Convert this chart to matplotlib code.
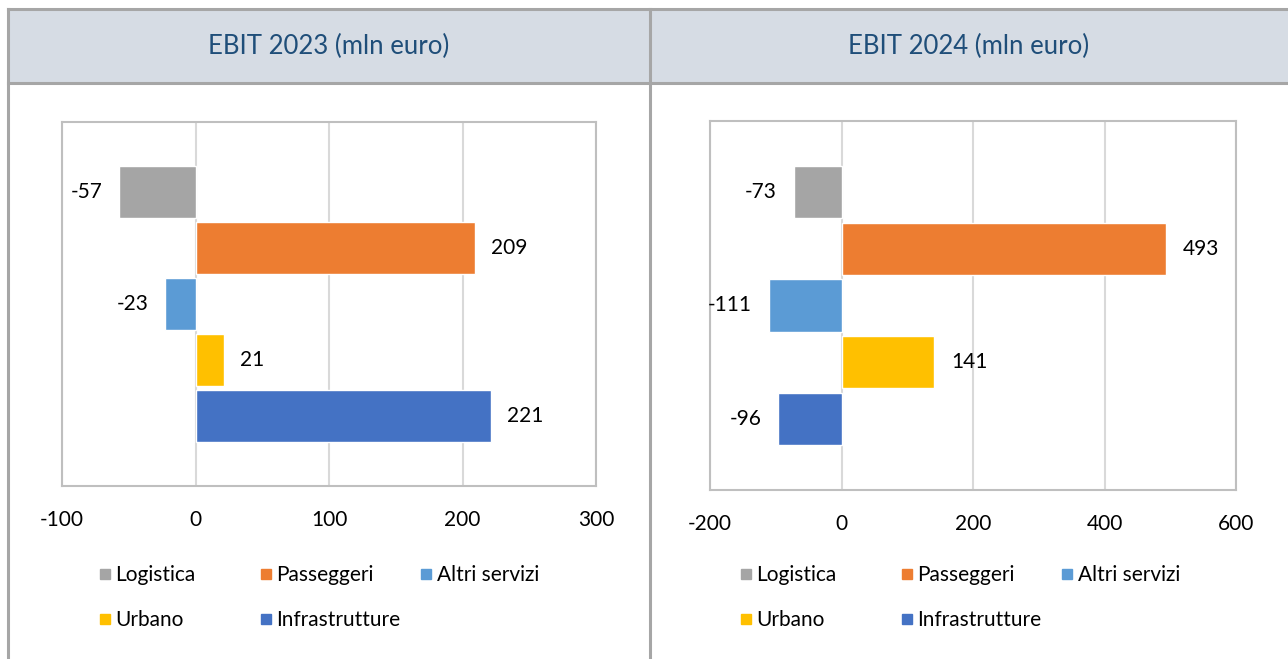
import matplotlib
matplotlib.use("Agg")
import matplotlib.pyplot as plt
from matplotlib.lines import Line2D
from matplotlib.patches import Rectangle

plt.rcParams["font.family"] = ["Lato", "DejaVu Sans"]
plt.rcParams["axes.unicode_minus"] = False

# data
segments = ["Logistica", "Passeggeri", "Altri servizi", "Urbano", "Infrastrutture"]
colors = ["#A5A5A5", "#ED7D31", "#5B9BD5", "#FFC000", "#4472C4"]
ebit_2023 = [-57, 209, -23, 21, 221]
ebit_2024 = [-73, 493, -111, 141, -96]
titles = ["EBIT 2023 (mln euro)", "EBIT 2024 (mln euro)"]
ticks_2023 = [-100, 0, 100, 200, 300]
ticks_2024 = [-200, 0, 200, 400, 600]

W, H = 1288, 659
fig = plt.figure(figsize=(W / 100, H / 100), dpi=100)

# table frame drawn in pixel coordinates on a background axes
bg = fig.add_axes([0, 0, 1, 1], zorder=-1)
bg.set_xlim(0, W); bg.set_ylim(H, 0); bg.axis("off")
border = "#A6A6A6"
bg.add_patch(Rectangle((8, 9), W - 8, 74, facecolor="#D6DCE4", edgecolor="none"))
bg.plot([8, W], [9, 9], color=border, lw=2.2)
bg.plot([8, W], [83, 83], color=border, lw=2.2)
bg.plot([8, 8], [9, H], color=border, lw=2.2)
bg.plot([650, 650], [9, H], color=border, lw=2.2)
bg.text(329, 46, titles[0], ha="center", va="center", fontsize=18.5, color="#1F4E79")
bg.text(969, 46, titles[1], ha="center", va="center", fontsize=18.5, color="#1F4E79")


def panel(box, values, ticks, leg_x):
    l, t, r, b = box
    ax = fig.add_axes([l / W, 1 - b / H, (r - l) / W, (b - t) / H])
    y = list(range(len(values)))
    ax.barh(y, values, height=0.92, color=colors, edgecolor="white", linewidth=1, zorder=3)
    for yi, v in zip(y, values):
        ax.annotate(str(v), (v, yi), xytext=(12 if v >= 0 else -12, 0),
                    textcoords="offset points", ha="left" if v >= 0 else "right",
                    va="center", fontsize=15, color="black")
    ax.set_xlim(ticks[0], ticks[-1])
    ax.set_ylim(5.25, -1.25)
    ax.set_xticks(ticks)
    ax.set_xticklabels([str(tk) for tk in ticks])
    ax.set_yticks([])
    ax.tick_params(axis="x", length=0, pad=17, labelsize=15, colors="black")
    ax.grid(axis="x", color="#D9D9D9", lw=1.5, zorder=0)
    for s in ax.spines.values():
        s.set_color("#BFBFBF"); s.set_linewidth(1.5)
    ax.set_axisbelow(True)

    # legend: Excel-style fixed slots, two rows
    slots = [(0, 575), (1, 575), (2, 575), (0, 620), (1, 620)]
    for name, col, (c, yy) in zip(segments, colors, slots):
        h = Line2D([], [], marker="s", ms=6.5, color=col, ls="none")
        x0 = leg_x + c * 160.5 - 5
        fig.legend(handles=[h], labels=[name], loc="center left",
                   bbox_to_anchor=(x0 / W, 1 - yy / H), frameon=False,
                   fontsize=15, handlelength=0.5, handletextpad=0.25,
                   borderpad=0, borderaxespad=0)
    return ax


panel((62, 122, 596, 486), ebit_2023, ticks_2023, 105)
panel((710, 121, 1236, 490), ebit_2024, ticks_2024, 746)

fig.savefig("out.png", dpi=100)
